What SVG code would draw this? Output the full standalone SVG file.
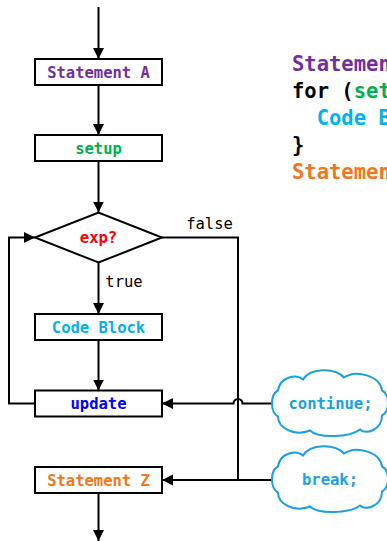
<svg xmlns="http://www.w3.org/2000/svg" width="387" height="541" viewBox="0 0 387 541">
<style>
.box{fill:#fff;stroke:#000;stroke-width:2}
.t{font-family:"DejaVu Sans Mono","Liberation Mono",monospace;font-size:15.5px;font-weight:bold;text-anchor:middle}
.lbl{font-family:"DejaVu Sans Mono","Liberation Mono",monospace;font-size:15.5px;fill:#000;text-anchor:middle}
.code{font-family:"DejaVu Sans Mono","Liberation Mono",monospace;font-size:20.5px;font-weight:bold}
.ln{fill:none;stroke:#000;stroke-width:2}
.cloud{fill:#fff;stroke:#1BA1E2;stroke-width:2}
</style>
<defs>
<marker id="ah" markerUnits="userSpaceOnUse" markerWidth="12" markerHeight="12" viewBox="0 0 12 12" refX="11" refY="6" orient="auto">
<path d="M0,0.5 L11,6 L0,11.5 Z" fill="#000"/>
</marker>
<path id="cloudShape" d="M -52,-13 C -50,-27 -33,-30 -27,-24 C -20,-36 5,-36 14,-26 C 26,-34 50,-28 52,-13 C 60,-9 60,8 52,12 C 52,26 36,32 30,26 C 20,34 -12,35 -20,27 C -35,33 -52,25 -52,13 C -60,9 -60,-9 -52,-13 Z"/>
</defs>

<g id="code">
<text class="code" x="292" y="71" fill="#7030A0">Statemen</text>
<text class="code" x="292" y="98"><tspan fill="#000">for (</tspan><tspan fill="#00B050">set</tspan></text>
<text class="code" x="316.7" y="125" fill="#00B0F0">Code B</text>
<text class="code" x="292" y="152" fill="#000">}</text>
<text class="code" x="292" y="179" fill="#EE7722">Statemen</text>
</g>

<g id="connectors">
<path class="ln" d="M98.5,7 V59" marker-end="url(#ah)"/>
<path class="ln" d="M98.5,85 V135" marker-end="url(#ah)"/>
<path class="ln" d="M98.5,161 V212.5" marker-end="url(#ah)"/>
<path class="ln" d="M98.5,262.5 V314" marker-end="url(#ah)"/>
<path class="ln" d="M98.5,340 V390.5" marker-end="url(#ah)"/>
<path class="ln" d="M98.5,493 V541" marker-end="url(#ah)"/>
<path class="ln" d="M35,403.5 H9 V237.5 H35" marker-end="url(#ah)"/>
<path class="ln" d="M162,237.5 H238 V480"/>
<path class="ln" d="M274,403.5 H242.5 A4.5,4.5 0 0 0 233.5,403.5 H162" marker-end="url(#ah)"/>
<path class="ln" d="M274,480 H162" marker-end="url(#ah)"/>
<text class="lbl" x="209.5" y="228.5">false</text>
<text class="lbl" x="124" y="287">true</text>
</g>

<g id="statementA">
<rect class="box" x="35" y="59" width="127" height="26"/>
<text class="t" x="98.5" y="77.5" fill="#7030A0">Statement A</text>
</g>
<g id="setup">
<rect class="box" x="35" y="135" width="127" height="26"/>
<text class="t" x="98.5" y="153.5" fill="#00B050">setup</text>
</g>
<g id="exp">
<path class="box" d="M35,237.5 L98.5,212.5 L162,237.5 L98.5,262.5 Z"/>
<text class="t" x="98.5" y="243" fill="#FF0000">exp?</text>
</g>
<g id="codeBlock">
<rect class="box" x="35" y="314" width="127" height="26"/>
<text class="t" x="98.5" y="332.5" fill="#00B0F0">Code Block</text>
</g>
<g id="update">
<rect class="box" x="35" y="390.5" width="127" height="26"/>
<text class="t" x="98.5" y="409" fill="#0000FF">update</text>
</g>
<g id="statementZ">
<rect class="box" x="35" y="467" width="127" height="26"/>
<text class="t" x="98.5" y="485.5" fill="#EE7722">Statement Z</text>
</g>
<g id="continue">
<use href="#cloudShape" class="cloud" transform="translate(330,403.5)"/>
<text class="t" x="330.5" y="409" fill="#1BA1E2">continue;</text>
</g>
<g id="break">
<use href="#cloudShape" class="cloud" transform="translate(330,479.5)"/>
<text class="t" x="330" y="485" fill="#1BA1E2">break;</text>
</g>
</svg>
